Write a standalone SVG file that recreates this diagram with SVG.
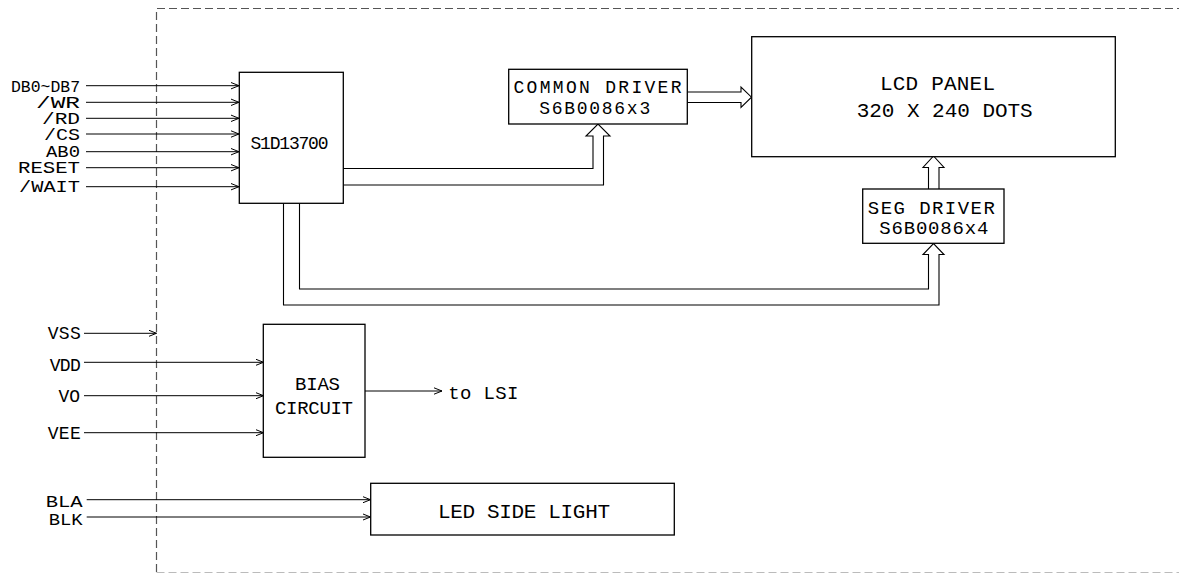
<svg xmlns="http://www.w3.org/2000/svg" width="1179" height="573" viewBox="0 0 1179 573">
<defs>
<style>
.box{fill:#fff;stroke:#000;stroke-width:1.3}
.ln{fill:none;stroke:#000;stroke-width:1}
.bus{fill:none;stroke:#000;stroke-width:1.1;stroke-linejoin:miter}
.bd{fill:none;stroke:#555;stroke-width:1.2;stroke-dasharray:8 4}
text{font-family:"Liberation Mono","DejaVu Sans Mono",monospace;fill:#000}
.t15{font-size:16px}
.t16{font-size:16.5px}
.t17{font-size:18px}
.t18{font-size:19px}
.t19{font-size:21px}
.t20{font-size:21px}
.e{text-anchor:end}
.m{text-anchor:middle}
</style>
<marker id="arr" viewBox="0 0 8 8" refX="8" refY="4" markerWidth="8" markerHeight="8" markerUnits="userSpaceOnUse" orient="auto">
<path d="M0,0.8 L8,4 L0,7.2" fill="none" stroke="#000" stroke-width="1"/>
</marker>
</defs>
<rect width="1179" height="573" fill="#fff"/>
<path class="bd" d="M156.5 572 V8.5 H1179"/>
<path class="bd" d="M156.5 572.5 H1179" style="stroke:#bbb"/>

<g id="connectors">
<line class="ln" x1="86" y1="85.7" x2="239" y2="85.7" marker-end="url(#arr)"/>
<line class="ln" x1="86" y1="102.3" x2="239" y2="102.3" marker-end="url(#arr)"/>
<line class="ln" x1="86" y1="118.3" x2="239" y2="118.3" marker-end="url(#arr)"/>
<line class="ln" x1="86" y1="134" x2="239" y2="134" marker-end="url(#arr)"/>
<line class="ln" x1="86" y1="151.7" x2="239" y2="151.7" marker-end="url(#arr)"/>
<line class="ln" x1="86" y1="167.7" x2="239" y2="167.7" marker-end="url(#arr)"/>
<line class="ln" x1="86" y1="186.7" x2="239" y2="186.7" marker-end="url(#arr)"/>
<line class="ln" x1="84" y1="333.3" x2="156.5" y2="333.3" marker-end="url(#arr)"/>
<line class="ln" x1="84" y1="362.3" x2="263.5" y2="362.3" marker-end="url(#arr)"/>
<line class="ln" x1="84" y1="395.7" x2="263.5" y2="395.7" marker-end="url(#arr)"/>
<line class="ln" x1="84" y1="432.7" x2="263.5" y2="432.7" marker-end="url(#arr)"/>
<line class="ln" x1="365" y1="391" x2="442" y2="391" marker-end="url(#arr)"/>
<line class="ln" x1="86.7" y1="499.7" x2="370.5" y2="499.7" marker-end="url(#arr)"/>
<line class="ln" x1="86.7" y1="517" x2="370.5" y2="517" marker-end="url(#arr)"/>
<path class="bus" d="M343 168.5 H593 V136 H586 L598 124 L610 136 H603.5 V185 H343"/>
<path class="bus" d="M687.5 92 H741 V87 L751.5 97.2 L741 107.5 V102.5 H687.5"/>
<path class="bus" d="M928.5 189 V167.5 H923 L933.5 156 L944 167.5 H939 V189"/>
<path class="bus" d="M299.5 203.5 V289 H928.5 V254.5 H923 L933.5 243.5 L944 254.5 H939 V305 H283.5 V203.5"/>
</g>

<g id="inputs">
<text class="t15 e" x="80" y="91.7" textLength="69" lengthAdjust="spacingAndGlyphs">DB0~DB7</text>
<text class="t15 e" x="80" y="107.7" textLength="44" lengthAdjust="spacingAndGlyphs">/WR</text>
<text class="t15 e" x="80" y="123.5" textLength="38" lengthAdjust="spacingAndGlyphs">/RD</text>
<text class="t15 e" x="80" y="140" textLength="36" lengthAdjust="spacingAndGlyphs">/CS</text>
<text class="t15 e" x="80" y="156.7" textLength="34" lengthAdjust="spacingAndGlyphs">AB0</text>
<text class="t15 e" x="80" y="173.3" textLength="62" lengthAdjust="spacingAndGlyphs">RESET</text>
<text class="t15 e" x="80" y="191.7" textLength="61" lengthAdjust="spacingAndGlyphs">/WAIT</text>
<text class="t17 e" x="80.7" y="339.3" textLength="33">VSS</text>
<text class="t17 e" x="80.7" y="370.7" textLength="31">VDD</text>
<text class="t17 e" x="80" y="401.7">VO</text>
<text class="t17 e" x="80.7" y="439.3" textLength="33">VEE</text>
<text class="t16 e" x="82.7" y="507.2" textLength="37" lengthAdjust="spacingAndGlyphs">BLA</text>
<text class="t16 e" x="82.7" y="524.5" textLength="34" lengthAdjust="spacingAndGlyphs">BLK</text>
</g>

<g id="s1d13700">
<rect class="box" x="239.3" y="72.3" width="104" height="131"/>
<text class="t17 m" x="289.5" y="149.3" textLength="78">S1D13700</text>
</g>

<g id="common-driver">
<rect class="box" x="508.7" y="69.3" width="178.6" height="54.7"/>
<text class="t17 m" x="597.5" y="92.5" textLength="168">COMMON DRIVER</text>
<text class="t17 m" x="594.7" y="114" textLength="111">S6B0086x3</text>
</g>

<g id="lcd-panel">
<rect class="box" x="751.7" y="36.7" width="363.6" height="120"/>
<text class="t19 m" x="937.5" y="90" textLength="115">LCD PANEL</text>
<text class="t19 m" x="944.7" y="116.7" textLength="176">320 X 240 DOTS</text>
</g>

<g id="seg-driver">
<rect class="box" x="862.7" y="189" width="141.3" height="54.3"/>
<text class="t18 m" x="931.3" y="214" textLength="127">SEG DRIVER</text>
<text class="t18 m" x="933.8" y="234" textLength="109">S6B0086x4</text>
</g>

<g id="bias-circuit">
<rect class="box" x="263.3" y="324.3" width="101.7" height="133"/>
<text class="t18 m" x="317.5" y="390" textLength="45">BIAS</text>
<text class="t18 m" x="314" y="414" textLength="78">CIRCUIT</text>
</g>
<g id="to-lsi">
<text class="t18" x="448.3" y="399.3" textLength="70">to LSI</text>
</g>

<g id="led-side-light">
<rect class="box" x="370.7" y="483.3" width="303.6" height="51.7"/>
<text class="t20 m" x="524" y="518.3" textLength="172">LED SIDE LIGHT</text>
</g>
</svg>
